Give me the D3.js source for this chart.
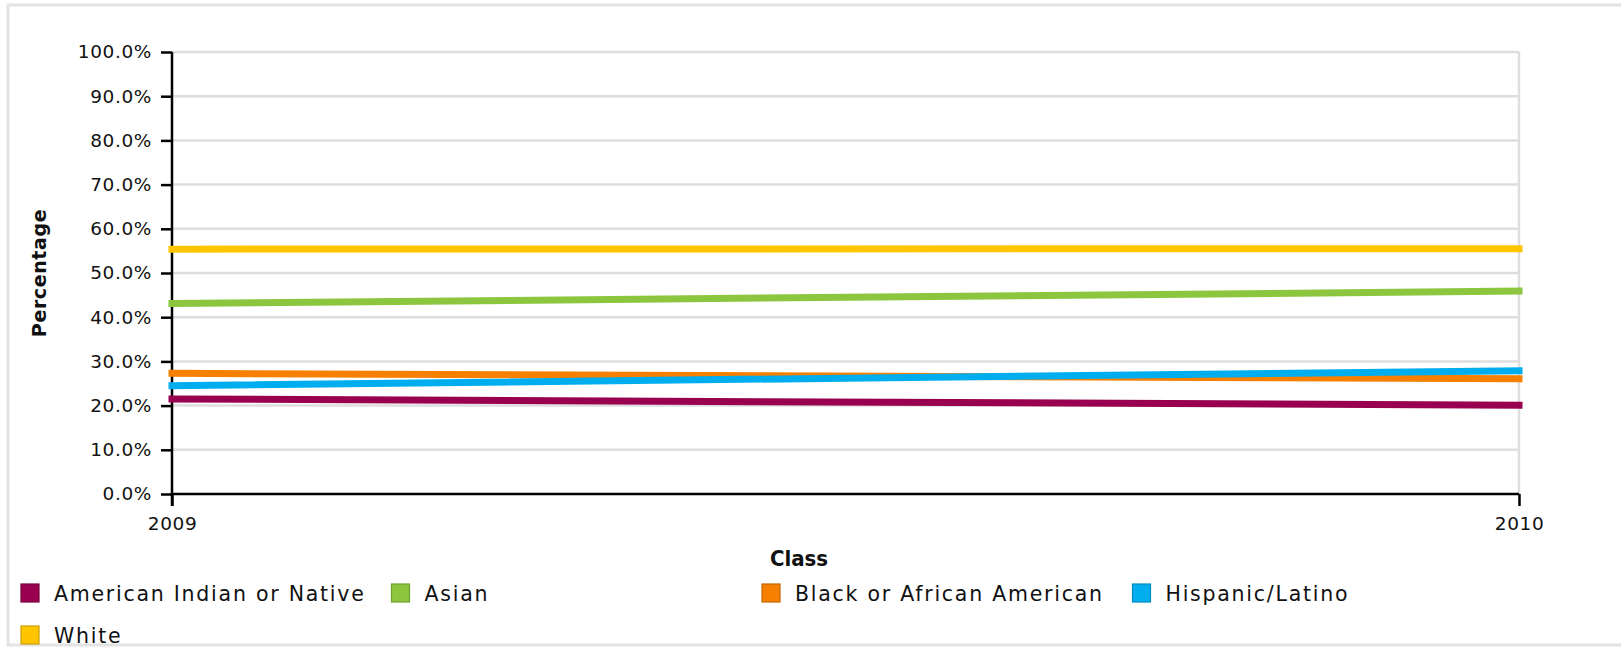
<!DOCTYPE html>
<html><head><meta charset="utf-8">
<script src="https://cdn.jsdelivr.net/npm/d3@7"></script>
<style>
html,body{margin:0;padding:0;background:#fff;}
svg{display:block;font-family:"DejaVu Sans",sans-serif;}
</style></head>
<body><svg id="chart" width="1621" height="647"></svg>
<script>
const classes = ["2009", "2010"];
const seriesNames = ["American Indian or Native", "Asian", "Black or African American", "Hispanic/Latino", "White"];
const americanIndian = [21.5, 20.1];
const asian = [43.1, 45.9];
const black = [27.3, 26.1];
const hispanic = [24.5, 27.9];
const white = [55.4, 55.5];
const colors = ["#99004f", "#8cc63f", "#f78000", "#00aeef", "#ffc600"];
const borders = ["#7a0040", "#6f9e30", "#c46600", "#008bbf", "#cc9e00"];
const yTicks = [0, 10, 20, 30, 40, 50, 60, 70, 80, 90, 100];

(function () {
const seriesValues = [americanIndian, asian, black, hispanic, white];
const svg = d3.select("#chart");

// outer frame
svg.append("rect").attr("x", 8).attr("y", 5).attr("width", 1640).attr("height", 640)
  .attr("fill", "none").attr("stroke", "#e3e3e3").attr("stroke-width", 3);

const pL = 172, pR = 1519, pT = 52, pB = 494;
const x = d3.scalePoint().domain(classes).range([pL, pR]);
const y = d3.scaleLinear().domain([0, 100]).range([pB, pT]);

// grid
svg.append("g").selectAll("line").data(yTicks.filter(d => d > 0)).join("line")
  .attr("x1", pL).attr("x2", pR).attr("y1", d => y(d)).attr("y2", d => y(d))
  .attr("stroke", "#dedede").attr("stroke-width", 2.5);
svg.append("line").attr("x1", pR).attr("x2", pR).attr("y1", pT).attr("y2", pB)
  .attr("stroke", "#dedede").attr("stroke-width", 2.5);

// axes
const yAxis = d3.axisLeft(y).tickValues(yTicks).tickFormat(d => d3.format(".1f")(d) + "%")
  .tickSize(11).tickPadding(9);
const gy = svg.append("g").attr("transform", `translate(${pL},0)`).call(yAxis);
const xAxis = d3.axisBottom(x).tickSize(12).tickPadding(11);
const gx = svg.append("g").attr("transform", `translate(0,${pB})`).call(xAxis);
[gy, gx].forEach(g => {
  g.select(".domain").attr("stroke", "#000").attr("stroke-width", 2.5);
  g.selectAll(".tick line").attr("stroke", "#000").attr("stroke-width", 2.5);
  g.selectAll(".tick text").attr("fill", "#111").style("font-size", "18.5px")
    .style("letter-spacing", "0.6px").style("font-family", "'DejaVu Sans',sans-serif");
});
gx.select(".domain").attr("d", `M${pL},0H${pR}`);
gy.select(".domain").attr("d", `M0,${pT}V${pB + 12}`);

// lines
const line = d3.line().x((d, i) => x(classes[i])).y(d => y(d));
svg.append("g").selectAll("path").data(seriesValues).join("path")
  .attr("d", d => line(d)).attr("fill", "none")
  .attr("stroke", (d, i) => colors[i]).attr("stroke-width", 7)
  .attr("stroke-linecap", "square");

// axis titles
svg.append("text").attr("x", 799).attr("y", 566).attr("text-anchor", "middle")
  .style("font-size", "22px").style("font-weight", "bold").style("font-family", "'DejaVu Sans Condensed','DejaVu Sans',sans-serif")
  .style("font-stretch", "condensed")
  .attr("fill", "#111").text("Class");
svg.append("text").attr("transform", `translate(46,${(pT + pB) / 2}) rotate(-90)`)
  .attr("text-anchor", "middle").style("font-size", "19px").style("font-weight", "bold")
  .style("letter-spacing", "0.6px").attr("fill", "#111").text("Percentage");

// legend
const colW = 370.5;
const leg = svg.append("g").selectAll("g").data(seriesNames).join("g")
  .attr("transform", (d, i) => `translate(${21 + (i % 4) * colW},${594 + Math.floor(i / 4) * 42})`);
leg.append("rect").attr("x", 0).attr("y", -10).attr("width", 18).attr("height", 18)
  .attr("fill", (d, i) => colors[i]).attr("stroke", (d, i) => borders[i]).attr("stroke-width", 1.2);
leg.append("text").attr("x", 33).attr("y", 7).style("font-size", "20.5px")
  .style("letter-spacing", "1.75px").attr("fill", "#111").text(d => d);
})();
</script></body></html>
